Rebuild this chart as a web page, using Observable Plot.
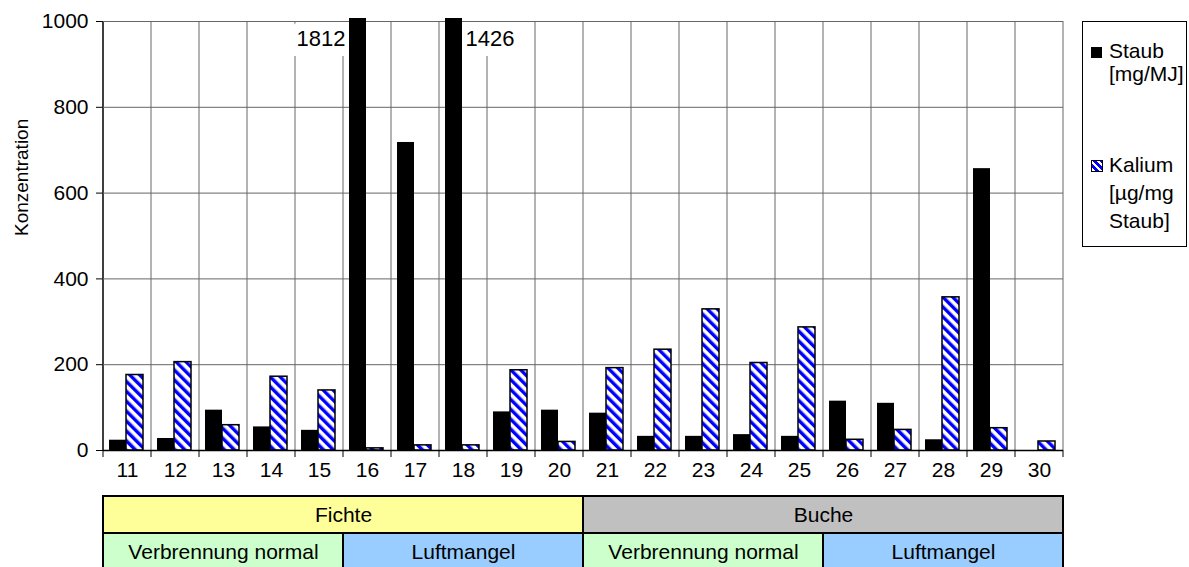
<!DOCTYPE html>
<html>
<head>
<meta charset="utf-8">
<script src="https://cdn.jsdelivr.net/npm/d3@7"></script>
<script src="https://cdn.jsdelivr.net/npm/@observablehq/plot@0.6"></script>
<style>
  html, body { margin: 0; padding: 0; background: white; overflow: hidden; }
  #wrap { position: relative; width: 1189px; height: 567px; overflow: hidden; font-family: "Liberation Sans", Arial, sans-serif; }
  #main { position: absolute; left: 0; top: 0; }
  #table { position: absolute; left: 0; top: 495px; }
  #legend { position: absolute; left: 1082px; top: 21px; width: 105px; height: 226px; border: 1px solid #000; box-sizing: border-box; font-size: 21px; color: #000; background: white; }
  #legend .sw { position: absolute; box-sizing: border-box; }
  #legend .txt { position: absolute; left: 26px; white-space: nowrap; }
</style>
</head>
<body>
<div id="wrap">
  <div id="main"></div>
  <div id="table"></div>
  <div id="legend">
    <div class="sw" style="left:8px; top:25px; width:11px; height:11px; background:#000;"></div>
    <div class="txt" id="lg1" style="top:17px; line-height:23px;"></div>
    <div class="sw" style="left:8px; top:138px; width:12px; height:12px; border:1px solid #000; background: repeating-linear-gradient(45deg, #fff 0px, #fff 2.5px, #0000ff 2.5px, #0000ff 5px);"></div>
    <div class="txt" id="lg2" style="top:129px; line-height:28px;"></div>
  </div>
</div>
<script>
// ---- data ----
const categories = ["11","12","13","14","15","16","17","18","19","20","21","22","23","24","25","26","27","28","29","30"];
const staub  = [24, 28, 94, 55, 47, 1812, 718, 1426, 90, 94, 87, 33, 33, 37, 33, 115, 110, 25, 657, 0];
const kalium = [176, 206, 59, 172, 140, 5, 12, 12, 187, 20, 192, 235, 329, 204, 287, 25, 48, 357, 52, 21];
const holzart = ["Fichte","Fichte","Fichte","Fichte","Fichte","Fichte","Fichte","Fichte","Fichte","Fichte",
                 "Buche","Buche","Buche","Buche","Buche","Buche","Buche","Buche","Buche","Buche"];
const betrieb = ["Verbrennung normal","Verbrennung normal","Verbrennung normal","Verbrennung normal","Verbrennung normal",
                 "Luftmangel","Luftmangel","Luftmangel","Luftmangel","Luftmangel",
                 "Verbrennung normal","Verbrennung normal","Verbrennung normal","Verbrennung normal","Verbrennung normal",
                 "Luftmangel","Luftmangel","Luftmangel","Luftmangel","Luftmangel"];
const yTicks = [0, 200, 400, 600, 800, 1000];
const yTitle = "Konzentration";
const seriesNames = [["Staub", "[mg/MJ]"], ["Kalium", "[µg/mg", "Staub]"]];
const cellColors = {"Fichte": "#ffff99", "Buche": "#c0c0c0", "Verbrennung normal": "#ccffcc", "Luftmangel": "#99ccff"};

// ---- derived ----
const yMax = yTicks[yTicks.length - 1];
const rows = categories.map((c, i) => ({cat: c, i, staub: staub[i], kalium: kalium[i]}));
const over = rows.filter(d => d.staub > yMax);
// label goes to the side of the smaller neighbour
const sideOf = d => {
  const l = d.i > 0 ? staub[d.i - 1] : Infinity;
  const r = d.i < staub.length - 1 ? staub[d.i + 1] : Infinity;
  return l <= r ? "left" : "right";
};

const W = 1189, ML = 103, MR = 126;
const font = "'Liberation Sans', Arial, sans-serif";

function gridAndDefs(index, scales, values, dims) {
  const {x, y} = scales;
  const g = d3.create("svg:g");
  const defs = g.append("defs");
  const p = defs.append("pattern").attr("id", "kaliumStripes")
    .attr("patternUnits", "userSpaceOnUse").attr("width", 7).attr("height", 7)
    .attr("patternTransform", "rotate(-45)");
  p.append("rect").attr("width", 7).attr("height", 7).attr("fill", "#fff");
  p.append("rect").attr("width", 3.4).attr("height", 7).attr("fill", "#0000ff");
  const xs = categories.map(c => x(c));
  const step = xs[1] - xs[0];
  xs.push(xs[xs.length - 1] + step);
  const top = y(yMax), base = y(0);
  for (const xv of xs) {
    g.append("line").attr("x1", xv).attr("x2", xv).attr("y1", top).attr("y2", base)
      .attr("stroke", "#666").attr("stroke-width", 1);
    g.append("line").attr("x1", xv).attr("x2", xv).attr("y1", base).attr("y2", base + 7)
      .attr("stroke", "#000").attr("stroke-width", 1);
  }
  g.append("line").attr("x1", xs[0]).attr("x2", xs[0]).attr("y1", top).attr("y2", base)
    .attr("stroke", "#000").attr("stroke-width", 1.3);
  return g.node();
}

const main = Plot.plot({
  width: W, height: 490,
  marginLeft: ML, marginRight: MR, marginTop: 21, marginBottom: 40,
  style: {fontFamily: font, fontSize: "21px", background: "white", color: "black", overflow: "visible"},
  x: {type: "band", domain: categories, padding: 0, label: null, tickSize: 0, tickPadding: 12},
  y: {domain: [0, yMax], ticks: yTicks, tickFormat: d3.format("d"), tickSize: 7, tickPadding: 8, label: null},
  marks: [
    gridAndDefs,
    Plot.text(over.filter(d => sideOf(d) === "left"), {x: "cat", y: () => yMax, text: d => String(d.staub),
      textAnchor: "end", lineAnchor: "top", dx: -22, dy: 9, fontSize: 22, fill: "black", stroke: "white", strokeWidth: 20, strokeLinejoin: "miter"}),
    Plot.text(over.filter(d => sideOf(d) === "right"), {x: "cat", y: () => yMax, text: d => String(d.staub),
      textAnchor: "start", lineAnchor: "top", dx: 2, dy: 9, fontSize: 22, fill: "black", stroke: "white", strokeWidth: 20, strokeLinejoin: "miter"}),
    Plot.ruleY(yTicks.filter(t => t > 0), {stroke: "#666", strokeWidth: 1}),
    Plot.barY(rows.filter(d => d.staub <= yMax), {x: "cat", y1: 0, y2: "staub", fill: "black", insetLeft: 6, insetRight: 25}),
    Plot.barY(over, {x: "cat", y1: 0, y2: () => yMax, fill: "black", insetLeft: 6, insetRight: 25, insetTop: -3}),
    Plot.barY(rows, {x: "cat", y1: 0, y2: "kalium", fill: "url(#kaliumStripes)", stroke: "black", strokeWidth: 1.5, insetLeft: 23, insetRight: 8}),
    Plot.ruleY([0], {stroke: "black", strokeWidth: 1.3}),
    Plot.text([yTitle], {frameAnchor: "left", text: d => d, rotate: -90, dx: -82, fontSize: 19, fill: "black"})
  ]
});
document.getElementById("main").appendChild(main);

// ---- category table below ----
function runs(arr, row) {
  const out = [];
  arr.forEach((v, i) => {
    const last = out[out.length - 1];
    if (last && last.label === v && last.end === i) last.end = i + 1;
    else out.push({row, label: v, start: i, end: i + 1});
  });
  return out;
}
const cells = [...runs(holzart, "Holzart"), ...runs(betrieb, "Betrieb")];
const table = Plot.plot({
  width: W, height: 76,
  marginLeft: ML, marginRight: MR, marginTop: 1, marginBottom: 1,
  style: {fontFamily: font, fontSize: "21px", background: "transparent", color: "black", overflow: "visible"},
  x: {domain: [0, categories.length], axis: null},
  y: {domain: ["Holzart", "Betrieb"], padding: 0, axis: null, round: false},
  marks: [
    Plot.barX(cells, {x1: "start", x2: "end", y: "row", fill: d => cellColors[d.label], stroke: "black", strokeWidth: 2}),
    Plot.text(cells, {x: d => (d.start + d.end) / 2, y: "row", text: "label", fill: "black"})
  ]
});
document.getElementById("table").appendChild(table);

// ---- legend texts ----
document.getElementById("lg1").innerHTML = seriesNames[0].join("<br>");
document.getElementById("lg2").innerHTML = seriesNames[1].join("<br>");
</script>
</body>
</html>
